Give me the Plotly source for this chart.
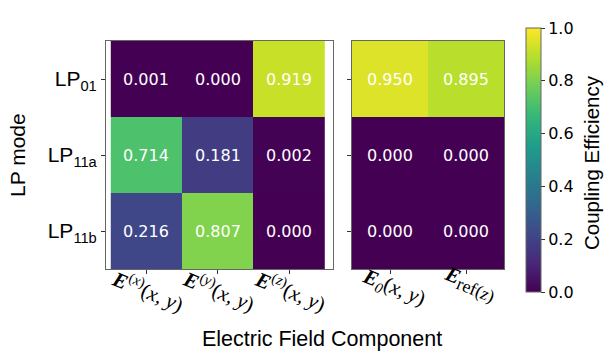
import plotly.graph_objects as go

# ---- data ----
modes = ["LP<sub>01</sub>", "LP<sub>11a</sub>", "LP<sub>11b</sub>"]
left_cols = ["Ex", "Ey", "Ez"]
right_cols = ["E0", "Eref"]
left_labels = [
    "<b><i>E</i></b><sup>(<i>x</i>)</sup>(<i>x</i>, <i>y</i>)",
    "<b><i>E</i></b><sup>(<i>y</i>)</sup>(<i>x</i>, <i>y</i>)",
    "<b><i>E</i></b><sup>(<i>z</i>)</sup>(<i>x</i>, <i>y</i>)",
]
right_labels = [
    "<b><i>E</i></b><sub><i>0</i></sub>(<i>x</i>, <i>y</i>)",
    "<b><i>E</i></b><sub><span style='font-size:18px'>ref(<i>z</i>)</span></sub>",
]
left_vals = [
    [0.001, 0.000, 0.919],
    [0.714, 0.181, 0.002],
    [0.216, 0.807, 0.000],
]
right_vals = [
    [0.950, 0.895],
    [0.000, 0.000],
    [0.000, 0.000],
]
cbar_ticks = [0.0, 0.2, 0.4, 0.6, 0.8, 1.0]

W, H = 606, 352
FONT = "DejaVu Sans"
SANS = "Liberation Sans"
MATH = "Liberation Serif"

def px(x):
    return x / W

def py(y):
    return 1 - y / H

fig = go.Figure()
fig.add_trace(go.Heatmap(
    z=left_vals, x=left_cols, y=modes, coloraxis="coloraxis",
    texttemplate="%{z:.3f}", textfont=dict(color="white", size=16, family=FONT),
    xaxis="x", yaxis="y", hoverinfo="skip"))
fig.add_trace(go.Heatmap(
    z=right_vals, x=right_cols, y=modes, coloraxis="coloraxis",
    texttemplate="%{z:.3f}", textfont=dict(color="white", size=16, family=FONT),
    xaxis="x2", yaxis="y2", hoverinfo="skip"))

axis_common = dict(showline=True, mirror=True, linecolor="#666666", linewidth=1,
                   ticks="outside", ticklen=4, tickcolor="#333333", showgrid=False,
                   zeroline=False)

fig.update_layout(
    width=W, height=H, margin=dict(l=0, r=0, t=0, b=0),
    paper_bgcolor="white", plot_bgcolor="white",
    font=dict(family=SANS, color="black"),
    xaxis=dict(domain=[px(106), px(333)], anchor="y", showticklabels=False, **axis_common),
    yaxis=dict(domain=[py(269), py(41)], anchor="x", autorange="reversed",
               tickfont=dict(size=21, family=SANS), **axis_common),
    xaxis2=dict(domain=[px(352), px(504)], anchor="y2", showticklabels=False, **axis_common),
    yaxis2=dict(domain=[py(269), py(41)], anchor="x2", autorange="reversed",
                showticklabels=False, **axis_common),
    coloraxis=dict(
        colorscale="Viridis", cmin=0, cmax=1,
        colorbar=dict(
            x=px(515.5), xanchor="left", y=py(160), yanchor="middle",
            len=284, lenmode="pixels", thickness=15, thicknessmode="pixels",
            outlinecolor="#666666", outlinewidth=1,
            ticks="outside", ticklen=4, tickcolor="#333333",
            tickvals=cbar_ticks, tickformat=".1f",
            tickfont=dict(size=16, family=FONT),
        ),
    ),
    showlegend=False,
)

annotations = []
for c, lab in zip(left_cols, left_labels):
    annotations.append(dict(x=c, xref="x", y=py(290), yref="paper", text=lab,
                            showarrow=False, textangle=22, xanchor="center",
                            yanchor="middle", xshift=2,
                            font=dict(family=MATH, size=21, color="black")))
for c, lab, yy in zip(right_cols, right_labels, [py(288), py(284)]):
    annotations.append(dict(x=c, xref="x2", y=yy, yref="paper", text=lab,
                            showarrow=False, textangle=22, xanchor="center",
                            yanchor="middle", xshift=4,
                            font=dict(family=MATH, size=21, color="black")))
annotations.append(dict(x=px(322), y=py(339), xref="paper", yref="paper",
                        text="Electric Field Component", showarrow=False,
                        xanchor="center", yanchor="middle",
                        font=dict(family=SANS, size=21.5)))
annotations.append(dict(x=px(17), y=py(155), xref="paper", yref="paper",
                        text="LP mode", showarrow=False, textangle=-90,
                        xanchor="center", yanchor="middle",
                        font=dict(family=SANS, size=21)))
annotations.append(dict(x=px(591), y=py(163), xref="paper", yref="paper",
                        text="Coupling Efficiency", showarrow=False, textangle=-90,
                        xanchor="center", yanchor="middle",
                        font=dict(family=SANS, size=20.5)))
fig.update_layout(annotations=annotations)

fig.write_html("out.html")
